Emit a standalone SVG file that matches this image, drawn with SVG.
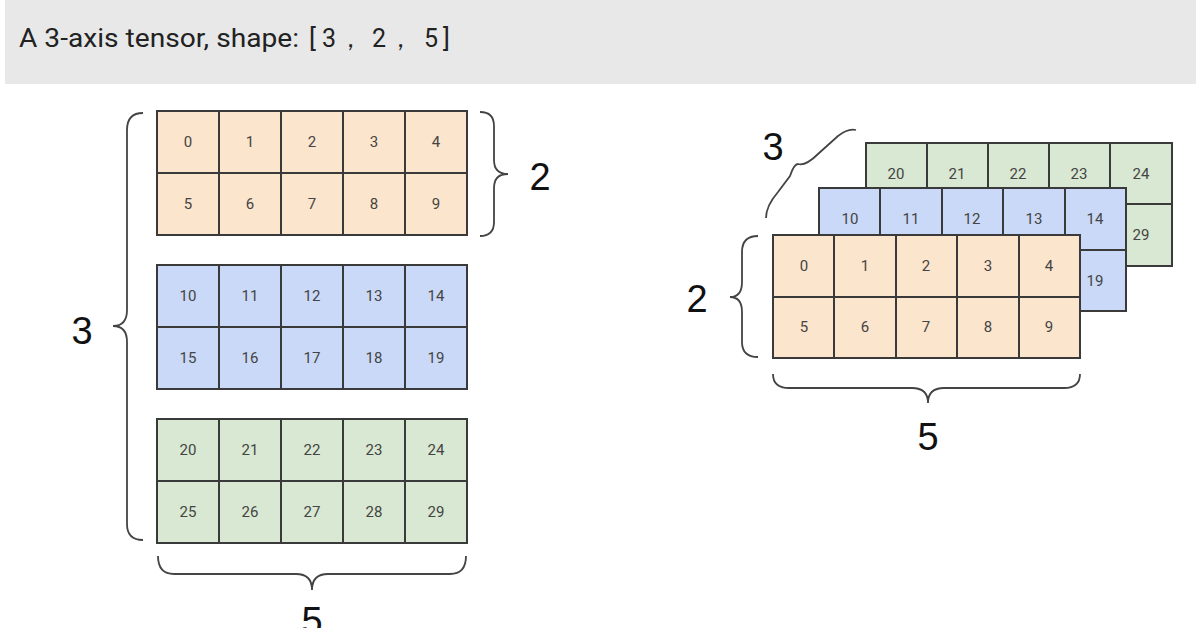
<svg xmlns="http://www.w3.org/2000/svg" width="1196" height="628" viewBox="0 0 1196 628">
<style>
.c{stroke:#3a3a3a;stroke-width:2}
.o{fill:#fbe5cd}.b{fill:#c9d9f7}.g{fill:#d9e8d2}
.t{font-family:Roboto,"Liberation Sans",sans-serif;font-size:15px;fill:#444;text-anchor:middle;dominant-baseline:central}
.big{font-family:"Liberation Sans",sans-serif;font-size:38px;fill:#111;text-anchor:middle}
.br{fill:none;stroke:#444;stroke-width:1.8}
</style>
<rect x="0" y="0" width="1196" height="628" fill="#fff"/>
<rect x="5" y="0" width="1191" height="84" fill="#e8e8e9"/>
<text y="47" font-family="Roboto,'Liberation Sans',sans-serif" font-size="25" fill="#222"><tspan x="19" textLength="280" lengthAdjust="spacingAndGlyphs">A 3-axis tensor, shape:</tspan><tspan x="309" font-size="26">[</tspan><tspan x="322" font-size="25">3</tspan><tspan x="338" font-size="25">，</tspan><tspan x="372" font-size="25">2</tspan><tspan x="388" font-size="25">，</tspan><tspan x="424" font-size="25">5</tspan><tspan x="443" font-size="26">]</tspan></text>
<g id="left-orange"><rect class="c o" x="157" y="111" width="310" height="124"/>
<path class="c" d="M157 173H467M219 111V235M281 111V235M343 111V235M405 111V235"/>
<g class="t"><text x="188" y="142">0</text><text x="250" y="142">1</text><text x="312" y="142">2</text><text x="374" y="142">3</text><text x="436" y="142">4</text>
<text x="188" y="204">5</text><text x="250" y="204">6</text><text x="312" y="204">7</text><text x="374" y="204">8</text><text x="436" y="204">9</text></g></g>
<g id="left-blue"><rect class="c b" x="157" y="265" width="310" height="124"/>
<path class="c" d="M157 327H467M219 265V389M281 265V389M343 265V389M405 265V389"/>
<g class="t"><text x="188" y="296">10</text><text x="250" y="296">11</text><text x="312" y="296">12</text><text x="374" y="296">13</text><text x="436" y="296">14</text>
<text x="188" y="358">15</text><text x="250" y="358">16</text><text x="312" y="358">17</text><text x="374" y="358">18</text><text x="436" y="358">19</text></g></g>
<g id="left-green"><rect class="c g" x="157" y="419" width="310" height="124"/>
<path class="c" d="M157 481H467M219 419V543M281 419V543M343 419V543M405 419V543"/>
<g class="t"><text x="188" y="450">20</text><text x="250" y="450">21</text><text x="312" y="450">22</text><text x="374" y="450">23</text><text x="436" y="450">24</text>
<text x="188" y="512">25</text><text x="250" y="512">26</text><text x="312" y="512">27</text><text x="374" y="512">28</text><text x="436" y="512">29</text></g></g>
<g id="left-braces">
<path class="br" d="M480 112Q494 112 494 126V160Q494 174 508 174Q494 174 494 188V222Q494 236 480 236"/>
<path class="br" d="M143 113Q127 113 127 130V310Q127 326 113 326Q127 326 127 342V524Q127 540 143 540"/>
<path class="br" d="M158 556Q158 574 174 574H296Q312 574 312 590Q312 574 328 574H450Q466 574 466 556"/>
<text class="big" x="540" y="190">2</text><text class="big" x="82" y="344">3</text><text class="big" x="312" y="634">5</text></g>
<g id="right-green"><rect class="c g" x="866" y="143" width="306" height="123"/>
<path class="c" d="M866 204H1172M927 143V266M988 143V266M1049 143V266M1110 143V266"/>
<g class="t"><text x="896" y="174">20</text><text x="957" y="174">21</text><text x="1018" y="174">22</text><text x="1079" y="174">23</text><text x="1141" y="174">24</text>
<text x="1141" y="235">29</text></g></g>
<g id="right-blue"><rect class="c b" x="819" y="188" width="307" height="123"/>
<path class="c" d="M819 250H1126M880 188V311M942 188V311M1003 188V311M1065 188V311"/>
<g class="t"><text x="850" y="219">10</text><text x="911" y="219">11</text><text x="972" y="219">12</text><text x="1034" y="219">13</text><text x="1095" y="219">14</text>
<text x="1095" y="281">19</text></g></g>
<g id="right-orange"><rect class="c o" x="773" y="235" width="307" height="123"/>
<path class="c" d="M773 297H1080M834 235V358M896 235V358M957 235V358M1019 235V358"/>
<g class="t"><text x="804" y="266">0</text><text x="865" y="266">1</text><text x="926" y="266">2</text><text x="988" y="266">3</text><text x="1049" y="266">4</text>
<text x="804" y="327">5</text><text x="865" y="327">6</text><text x="926" y="327">7</text><text x="988" y="327">8</text><text x="1049" y="327">9</text></g></g>
<g id="right-braces">
<path class="br" d="M758 236Q742 236 742 252V282Q742 297 730 297Q742 297 742 312V342Q742 357 758 357"/>
<path class="br" d="M773 374Q773 388 789 388H912Q928 388 928 403Q928 388 944 388H1064Q1080 388 1080 374"/>
<path class="br" d="M766 218Q766 206 778 192L790 176Q794 164 798 164Q806 166 818 154L838 136Q848 128 856 130"/>
<text class="big" x="773" y="160">3</text><text class="big" x="697" y="312">2</text><text class="big" x="928" y="450">5</text></g>
</svg>
